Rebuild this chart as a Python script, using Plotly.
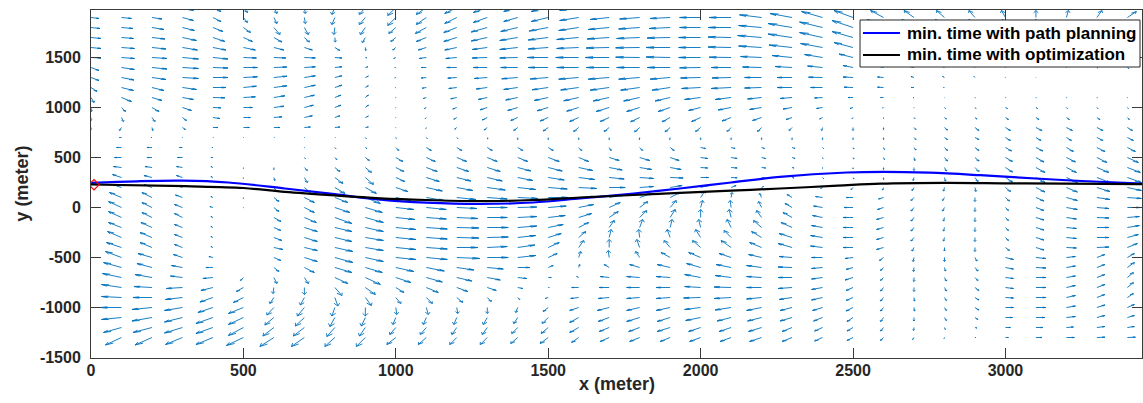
import plotly.graph_objects as go

# ---------------- data ----------------
# Grid of the current field (metres)
X_GRID = [0, 100, 200, 300, 400, 500, 600, 700, 800, 900, 1000, 1100, 1200, 1300, 1400, 1500, 1600,
          1700, 1800, 1900, 2000, 2100, 2200, 2300, 2400, 2500, 2600, 2700, 2800, 2900, 3000, 3100,
          3200, 3300, 3400]
Y_GRID = [2000, 1900, 1800, 1700, 1600, 1500, 1400, 1300, 1200, 1100, 1000, 900, 800, 700, 600, 500,
          400, 300, 200, 100, 0, -100, -200, -300, -400, -500, -600, -700, -800, -900, -1000, -1100,
          -1200, -1300]

# east component (one row per Y_GRID value, one entry per X_GRID value)
U = [
    [8, 10, 10, 11, 8, 4, 3, 1, -3, -6, -8, -10, -12, -14, -14, -17, -19, -19, -20, -20, -21, -22, -22, -22, -21, -19, -13, -10, -8, -6, -4, 0, 2, 5, 9],
    [8, 10, 10, 11, 8, 4, 3, 1, -3, -6, -8, -10, -12, -14, -14, -17, -19, -19, -20, -20, -21, -22, -22, -22, -21, -19, -13, -10, -8, -6, -4, 0, 2, 5, 9],
    [9, 11.5, 12, 12, 10, 7, 6, 4, -1, -5, -7, -11, -13, -16, -17, -19, -20, -21, -21, -21, -21, -23, -23, -24, -23, -21, -16, -12, -9, -6, -3, 0, 3, 6, 9],
    [10, 12, 13, 14, 12, 9, 8, 5, 0.5, -3, -5, -10, -13, -16, -18, -20, -22, -22, -23, -23, -22, -23, -24, -24, -23, -21, -17, -13, -9, -6, -3, 0, 3, 5, 7],
    [10, 13, 14, 15, 13, 12, 10, 8, 5, 0.5, -3, -8, -12, -15, -18, -20, -22, -23, -24, -24, -22, -23, -23, -23, -22, -19, -15, -11, -8, -5, -2, 0, 2, 4, 5],
    [10, 13, 15, 16, 15, 13, 12, 11, 7, 1.5, -2, -7, -11, -15, -18, -21, -23, -24, -24, -24, -22, -22, -21, -20, -18, -14, -10, -7, -5, -3, -1, 0, 1, 2, 3],
    [8, 13, 15, 16, 15, 14, 13, 11, 7, 2.5, -1, -5, -10, -14, -17, -20, -22, -23, -23, -23, -21, -20, -19, -17, -15, -10, -6, -4, -2, -1, -0.5, 0, 0.5, 1, 1.5],
    [8, 12.5, 14, 16, 15, 14, 13, 11, 7, 3, -1, -5, -9, -13, -16, -18, -20, -21, -21, -20, -20, -19, -17, -15, -14, -10, -6, -3, -2, -1, -0.5, 0, 0, 0, 0],
    [6, 12, 12, 14, 13, 13, 13, 11, 7, 3, -0.7, -4, -8, -11, -14, -16, -18, -19, -19, -18, -19, -20, -17, -15, -12, -9, -6, -3, -1, 0, 0, 0, 0, 0, 0],
    [3, 10, 10, 11, 12, 12, 11, 10, 6, 3, -0.5, -3, -6, -9, -12, -14, -15, -16, -16, -15, -16, -16, -14, -12, -8, -5, -3, -1, 0, 0.5, 0.5, 0.5, 0.5, 0.5, 0.5],
    [0.5, 4, 7, 9, 8, 9, 10, 9, 6, 3, -0.3, -2, -4, -7, -10, -11, -12, -13, -13, -12, -12, -13, -12, -9, -6, -3, -1, 0, 1, 1, 2, 1.5, 1, 1, 1],
    [0, 2, 3, 4, 7, 7, 8, 8, 5, 3, 0, -1, -3, -5, -7, -8, -9, -9, -9, -8, -9, -9, -9, -6, -3, -1, 0, 1, 2, 2, 3, 3, 3, 3, 2],
    [0, -2, 1, 3, 5, 6, 6, 6, 5, 3, 0, -0.5, -2, -3, -4, -5, -5, -5, -5, -5, -5, -4, -4, -3, -1, 0, 0, 2, 3, 4, 5, 6, 6, 6, 5],
    [0, -2, -1, 0.5, 0.5, 0.5, 0.5, 0.5, 0.5, 1, 0.5, 1, 1, 0.5, 0, 0, 0, 0, -0.3, -0.5, 0, 0, 0, 0, 0, 0, 0, 2, 3, 4, 5, 5, 5, 6, 6],
    [-3, -5, -5, -3, -1, 0, 0, 0.5, 1, 1.5, 3, 5, 5, 5, 5, 5, 3, 2, 3, 4, 5, 4, 3, 3, 1, 1, 1, 2, 3, 4, 6, 7, 7, 8, 8],
    [-6, -7, -5, -5, -2, 0, 0, 1, 2, 4, 7, 9, 10, 10, 10, 11, 10, 10, 10, 9, 7, 6, 4, 3, 0.5, 1, 1, 1, 3, 4, 7, 8, 9, 10, 11],
    [-7, -8, -7, -6, -2, 0, 0, 3, 5, 6, 8, 11, 12, 13, 13, 14, 14, 13, 12, 11, 7, 6, 4, 2, 0, 0, 0, 0, 2, 4, 7, 9, 10, 12, 13],
    [-8, -9, -8, -6, -2, 0, 1, 3, 8, 8, 9, 13, 14, 15, 15, 16, 16, 15, 14, 13, 8, 6, 4, 2, 1, 1, 0, -1, 1, 3, 7, 9, 11, 13, 14],
    [-8, -9, -8, -6, -2, 0, 3, 6, 10, 11, 12, 16, 16, 18, 18, 19, 18, 16, 14, 12, 8, 5, 2, -1, -2, -2, -1, -2, -1, 1, 5, 9, 11, 13, 14],
    [-11, -12, -10, -7, -2, 0, 5, 10, 13, 15, 15, 18, 19, 20, 20, 20, 18, 15, 12, 10, 4, 1, -2, -5, -7, -7, -5, -3, -2, 0, 4, 8, 11, 13, 14],
    [-12, -13, -10, -8, -3, 0, 5, 10, 15, 17, 18, 20, 20, 20, 19, 18, 15, 11, 8, 6, 2, -1, -3, -7, -9, -9, -6, -3, -2, 0, 3, 8, 11, 12, 13],
    [-12, -13, -10, -8, -2, 0, 7, 12, 17, 18, 19, 20, 21, 20, 19, 17, 13, 9, 7, 5, 0, -2, -5, -9, -10, -10, -7, -3, -1, 0, 3, 8, 10, 12, 12],
    [-12, -13, -11, -8, -2, 0, 7, 13, 17, 18, 20, 21, 22, 21, 19, 15, 10, 5, 3, 2, -2, -4, -8, -11, -11, -10, -7, -3, -1, 0, 3, 8, 10, 12, 12],
    [-13, -14, -12, -8, -2, 0, 8, 13, 17, 18, 20, 21, 22, 21, 18, 13, 7, 2, -1, -3, -5, -7, -10, -13, -12, -10, -7, -3, -1, 0, 3, 8, 10, 12, 11],
    [-14, -15, -12, -8, -2, 0, 9, 13, 18, 18, 20, 21, 21, 20, 17, 11, 5, 0, -3, -6, -8, -10, -12, -14, -12, -10, -7, -2, 0, 0, 4, 8, 10, 12, 10],
    [-15, -16, -14, -9, -4, 0, 7, 13, 18, 18, 20, 21, 23, 21, 18, 9, 2, -1, -4, -9, -12, -12, -13, -13, -11, -8, -4, -1, 0, 2, 8, 10, 9, 8, 7],
    [-17, -18, -15, -11, -7, 0, 5, 10, 17, 17, 18, 18, 17, 16, 12, 5, 1, -5, -10, -13, -14, -15, -15, -14, -11, -7, -3, -0.5, 1, 3, 8, 10, 9, 8, 7],
    [-18, -19, -17, -12, -10, -3, 3, 4, 13, 15, 15, 16, 15, 13, 9, 3, -2, -9, -13, -14, -16, -16, -15, -14, -11, -8, -3, 0, 2, 3, 8, 10, 9, 8, 6],
    [-19, -20, -18, -16, -12, -7, -1, 0, 7, 10, 8, 12, 11, 9, 5, 1, -7, -10, -13, -14, -16, -17, -15, -14, -11, -7, -3, 0, 2, 4, 8, 10, 9, 8, 6],
    [-19, -20, -19, -17, -13, -10, -4, -4, 3, 6, 5, 6, 6, 4, 2, -3, -8, -11, -13, -14, -17, -17, -15, -13, -11, -7, -3, 0.5, 2, 4, 8, 10, 9, 8, 6],
    [-20, -21, -20, -18, -15, -15, -7, -7, -3, 0, 1, 2, 1, 0, -2, -5, -9, -12, -13, -14, -16, -16, -15, -12, -10, -7, -3, 0.5, 2, 4, 8, 10, 9, 8, 7],
    [-19, -20, -20, -18, -17, -15, -9, -9, -5, -4, -3, -3, -3, -4, -4, -6, -9, -11, -13, -13, -15, -14, -14, -12, -9, -6, -3, 0, 2, 3, 7, 9, 9, 8, 7],
    [-17, -18, -19, -18, -17, -15, -11, -11, -8, -6, -6, -6, -5, -5, -6, -7, -9, -10, -11, -13, -12, -12, -13, -10, -8, -6, -3, -0.5, 1, 2, 5, 7, 7, 8, 7],
    [-15, -16, -17, -17, -17, -17, -14, -13, -10, -9, -9, -8, -7, -7, -7, -8, -7, -9, -10, -10, -11, -11, -12, -10, -8, -6, -3, -1.5, -0.5, 1, 3, 6, 8, 8, 8],
]

# north component
V = [
    [-1, -1, -1.5, -3, -4, -5, -6, -6, -7, -7, -8, -7, -6, -5, -4, -4, -3, -2, -1.5, -1, 0, 0, 2.7, 4, 6, 7, 7, 7, 7, 7, 7, 7, 7, 7, 6],
    [-1, -1, -1.5, -3, -4, -5, -6, -6, -7, -7, -8, -7, -6, -5, -4, -4, -3, -2, -1.5, -1, 0, 0, 2.7, 4, 6, 7, 7, 7, 7, 7, 7, 7, 7, 7, 6],
    [-1, -1, -2, -3, -4, -5, -7, -7, -7, -7, -6, -6, -5, -4.5, -4, -3.5, -3, -2, -1.5, -1, 0, 0, 2, 4, 5.5, 7, 8, 8, 8, 8, 8, 8, 7, 6, 5],
    [-1, -1, -1.5, -3, -4, -4, -4.5, -4.5, -4.5, -5, -4, -4, -4, -3.5, -3, -2.5, -2, -1.5, -1, -0.5, 0, 0.5, 2, 3.5, 5, 6, 7, 7, 7, 7, 6, 6, 5, 4, 3],
    [-1, -1, -1.5, -2.5, -2.5, -2.5, -2.5, -2.5, -3, -3, -2.5, -2.5, -2.5, -2, -2, -1.5, -1, -0.5, -0.3, 0, 0, 0.5, 1.5, 2.5, 4, 5, 5, 5, 4, 4, 3, 3, 2, 1, 0],
    [-0.5, -1, -1, -1.5, -1.5, -0.5, -0.5, -0.5, -0.5, -0.3, -1, -1, -1, -0.5, -0.5, 0, 0, 0, 0.3, 0.5, 0, 0.3, 1, 2, 3, 3.5, 3, 2.5, 2, 1.5, 1, 0.5, 0, -0.5, -1],
    [-3, -2, -1.5, -1, -0.5, 0, 0.5, 0.7, 0.7, 0.7, 0, 0, 0, 0, 0, 0, 0, 0, 0, 0, -0.3, 0, 0.5, 1, 1.5, 2, 1.5, 1, 1, 1, 0.5, 0.3, 0, -0.5, -1],
    [-3, -2.5, -2, -1, 0, 0.7, 1.3, 1.7, 1.7, 1.3, -0.3, -0.5, -0.7, -1, -1.3, -1.5, -1.7, -1.7, -1.7, -1.7, -0.5, -0.5, 0, 0, 0.3, 0.5, 0.5, 1, 1, 1, 0.5, 0.3, 0, 0, 0],
    [-4, -3, -3, -2, 0, 1.3, 1.7, 2.3, 2.3, 1.7, -0.3, -0.7, -1, -1.5, -2, -2.3, -2.5, -2.7, -2.7, -2.7, -1, -1, -0.5, 0, 0, 0.3, 0.3, 0, 0, 0, 0, 0, 0, 0, 0],
    [-5, -4, -3, -2, -0.3, 0.7, 1.7, 2.3, 2.3, 2.3, -0.5, -1, -1.3, -2, -2.5, -3, -3.3, -3.5, -3.5, -3.5, -2, -2, -1.5, -1, -0.5, 0, 0, -0.3, -0.3, -0.5, -0.5, -0.5, -0.5, -0.5, -0.5],
    [-4, -4, -4, -3, -0.3, 0, 1.3, 2.3, 2.3, 2.3, -0.5, -1, -1.5, -2.3, -3, -3.3, -3.7, -4, -4, -4, -3, -2.5, -2, -1.5, -1, -1, -0.5, -0.5, -1, -1, -1, -1, -1, -1, -1],
    [-3, -4, -4, -3, -1, 0, 0.7, 1.7, 1.7, 1.3, -0.5, -1, -1.7, -2.5, -3, -3.5, -4, -4, -4.3, -4.3, -4, -3.5, -3, -2, -1.5, -1, -1, -1, -1.5, -1.5, -2, -2, -2, -2, -2],
    [-2, -3, -3, -2, 0, 0, 0, 0.5, 0.5, 0.5, -0.5, -1, -1.7, -2.5, -3, -3.5, -4, -4, -4.3, -4.3, -4, -4, -4, -3, -3, -3, -2, -2, -2.5, -3, -3, -3, -3, -3, -3],
    [0, 0, 0, 0, 0, 0, 0, 0, 0, -1, -1, -1, -1, -1.5, -2, -2, -2, -2, -2, -2, -2, -2, -2, -2, -2, -2, -2, -2, -2, -2, -3, -3, -3, -3, -3],
    [0, 0, 0, 0, 0, 0, 0, -0.5, -1, -1, -3, -3, -3, -3, -3, -3, -3, -3, -3, -3, -1, -1, -1, -1, -1, -1.5, -2, -2.5, -3, -3, -3.5, -3.5, -4, -4, -4],
    [0, 0, 0, 0, 0, 0, 0, -1, -2, -3, -4, -4, -4, -4, -4, -4, -4, -3, -3, -3, -1, -1, -1, -1, -1, -1.5, -2, -3, -3.5, -3.5, -4, -4.5, -4.5, -5, -5],
    [1, 1, 1, 1, 1, -1, -2, -3, -4, -5, -4, -4, -4, -4, -3.5, -3.5, -3, -2.5, -2, -2, -0.5, -0.5, -0.5, -0.5, -1, -1.5, -2, -3, -3.5, -4, -4.5, -5, -5, -5, -5],
    [3, 3, 2, 2, 1, -1, -3, -5, -6, -7, -4, -4, -3.5, -3.5, -3, -2.5, -2, -1.5, -1, -0.5, 0, -0.3, -0.5, -0.5, -1, -1.5, -2, -3, -3.5, -4, -4.5, -5, -5, -5, -5],
    [3, 3, 3, 2, 1, -1, -4, -5, -6, -6, -4, -3.5, -3, -2.5, -2, -1.5, -1, 0, 1, 2, 2, 2, 1, 0, -1, -2, -2.5, -3, -3.5, -4, -4, -4.5, -4.5, -4, -3],
    [5, 5, 5, 2.5, 1, -1, -4, -5, -5, -6, -3, -3, -2, -1.5, -1, 0, 1, 2.5, 4, 5, 6, 5, 4, 3, 1, 0, -1.5, -3, -3, -4, -3.5, -3.5, -3, -2, -1],
    [6, 6, 5, 3, 1, -0.5, -4, -5, -5, -5, -2, -2, -1, 0, 0.5, 1.5, 3, 5, 6, 7, 7, 7, 6, 4, 1.5, 0, -2, -3.5, -3.5, -4, -3, -3, -2, -1, 0],
    [6, 6, 5, 4, 1, 0, -4, -5, -6, -5, -2, -1.5, -1, 0, 1, 2, 4, 6, 7, 8, 8, 8, 7, 5, 2, 0, -2, -3.5, -3.5, -4, -3, -2.5, -1.5, -0.5, 1],
    [5, 5, 5, 3, 1, 0, -3, -4, -4, -4, -2, -1.5, -0.5, 0, 1.5, 3, 5, 7, 8, 8, 8, 8, 7, 5, 2, 0, -2, -3.5, -3.5, -4, -3, -2.5, -1, 0, 2],
    [6, 6, 5, 3, 1, 0, -3, -4, -4, -3, -2, -1.5, -0.5, 0.5, 2, 4, 6, 8, 8, 8, 8, 7, 6, 4, 2, 0, -2, -3.5, -3.5, -4, -3, -2.5, -1, 0, 3],
    [5, 5, 5, 3, 1, 0, -2, -3, -4, -3, -2, -1.5, 0, 1, 2.5, 5, 7, 8, 8, 7, 7, 7, 5, 4, 1.5, 0, -2, -3.5, -3.5, -4, -3, -2.5, -0.5, 0.5, 4],
    [6, 6, 4, 3, 1, 0, -3, -4, -5, -4, -2, -2, -1, 0, 2, 4, 6, 7, 6, 5, 5, 4, 3, 1, 0, -1, -3, -4, -4, -3.5, -2, -1, 1, 3, 4],
    [5, 5, 4, 2, 0, 0, -4, -5, -5, -5, -4, -3.5, -2.5, -1.5, 0, 2, 3, 3, 3, 3, 4, 3, 2, 0.5, -1, -2, -3, -4, -3.5, -3.5, -1.5, -0.5, 1.5, 3, 5],
    [4, 4, 3, 1.5, -1, -3, -6, -6, -6, -7, -5, -4.5, -3.5, -2.5, -1, 0, 1, 1, 1, 1, 3, 2, 1, 0, -1.5, -2.5, -3, -4, -3.5, -3, -1, 0, 1.5, 3, 5],
    [3, 3, 1, -1, -3, -4, -6, -7, -8, -7, -5, -5, -4, -3, -1, 0, 0, 0, 0, 0, 1, 0.5, 0, -1, -2, -3, -3.5, -4, -3.5, -3, -1, 0, 2, 3, 5],
    [1, 1, 0, -2, -4.5, -5, -6, -7.5, -8.5, -8, -6, -6, -5, -4, -2, -1, -1, -1, -1, -1, -0.5, -1, -1.5, -2, -2.5, -3, -3.5, -3.5, -3, -2.5, -0.5, 0, 2, 3, 4],
    [0, 0, -2, -3, -5, -6, -7.5, -8.5, -8.5, -8.5, -7, -7, -6, -6, -5, -4, -3, -3, -3, -3, -2, -2.5, -3, -3, -3, -3.5, -3.5, -3.5, -3, -2.5, 0, 0, 1.5, 2.5, 3],
    [-2, -2, -3.5, -4.5, -6, -7, -7.5, -8.5, -9, -8.5, -7, -7, -7, -7, -6, -6, -5, -4, -4, -4, -3, -3.5, -3.5, -3.5, -3.5, -4, -4, -3.5, -3, -2, 0, 0, 1, 2, 2],
    [-5, -5, -5, -5.5, -6, -8, -8.5, -8.5, -9, -8.5, -7, -7, -7, -7, -6, -6, -5, -4, -4, -4, -4, -4, -4, -4, -3.5, -3.5, -3.5, -3, -2, -0.5, 0, 0, 0.5, 1, 1],
    [-7, -7.5, -7.5, -7, -7, -8, -9, -9, -9, -9, -7, -7, -7, -7, -6, -6, -5, -4, -4, -4, -4, -4, -4, -4, -3.5, -3, -3, -2, -1, 0, 0, 0, 0, 0.3, 0.3],
]

# vehicle paths
PLAN_X = [0, 150, 300, 450, 636, 800, 950, 1100, 1276, 1450, 1604, 1780, 1932, 2100, 2260, 2480, 2600, 2750, 2917, 3100, 3250, 3448]
PLAN_Y = [246, 262, 268, 250, 190, 133, 78, 48, 35, 50, 90, 140, 190, 250, 306, 350, 357, 348, 323, 290, 265, 240]
OPT_X = [0, 308, 500, 636, 800, 950, 1100, 1276, 1450, 1604, 1780, 1932, 2100, 2260, 2450, 2590, 2800, 3000, 3200, 3448]
OPT_Y = [230, 213, 195, 156, 120, 92, 75, 63, 75, 100, 125, 146, 168, 190, 218, 238, 246, 242, 238, 233]
START = (10, 228)

SERIES_NAMES = ["min. time with path planning", "min. time with optimization"]
SERIES_COLORS = ["#0000FF", "#000000"]
X_TICKS = [0, 500, 1000, 1500, 2000, 2500, 3000]
X_LABELS = ["0", "500", "1000", "1500", "2000", "2500", "3000"]
Y_TICKS = [-1500, -1000, -500, 0, 500, 1000, 1500]
Y_LABELS = ["-1500", "-1000", "-500", "0", "500", "1000", "1500"]

# ---------------- build figure ----------------
assert len(U) == len(Y_GRID) and len(V) == len(Y_GRID)
for row_u, row_v in zip(U, V):
    assert len(row_u) == len(X_GRID) and len(row_v) == len(X_GRID)

SCALE_X = 3.28   # metres of arrow per unit (east)
SCALE_Y = 10.0   # metres of arrow per unit (north)
ALPHA, BETA = 0.33, 0.33

qx, qy = [], []
for i, y0 in enumerate(Y_GRID):
    for j, x0 in enumerate(X_GRID):
        u = U[i][j] * SCALE_X
        v = V[i][j] * SCALE_Y
        if u == 0 and v == 0:
            continue
        tx, ty = x0 + u, y0 + v
        qx += [x0, tx, None, tx - ALPHA * (u + BETA * v), tx, tx - ALPHA * (u - BETA * v), None]
        qy += [y0, ty, None, ty - ALPHA * (v - BETA * u), ty, ty - ALPHA * (v + BETA * u), None]

fig = go.Figure()
fig.add_trace(go.Scatter(x=qx, y=qy, mode="lines", line=dict(color="#0072BD", width=0.9),
                         showlegend=False, hoverinfo="skip"))
fig.add_trace(go.Scatter(x=PLAN_X, y=PLAN_Y, mode="lines", name=SERIES_NAMES[0], showlegend=False,
                         line=dict(color=SERIES_COLORS[0], width=2.2, shape="spline", smoothing=1.0)))
fig.add_trace(go.Scatter(x=OPT_X, y=OPT_Y, mode="lines", name=SERIES_NAMES[1], showlegend=False,
                         line=dict(color=SERIES_COLORS[1], width=2.2, shape="spline", smoothing=1.0)))
fig.add_trace(go.Scatter(x=[START[0]], y=[START[1]], mode="markers", showlegend=False,
                         marker=dict(symbol="diamond-open", size=8, color="#FF0000", line=dict(width=1.2))))

FONT = "Liberation Sans"
axis_common = dict(showgrid=False, zeroline=False, showline=True, linecolor="#3a3a3a", linewidth=1,
                   ticks="inside", ticklen=10, tickwidth=1, tickcolor="#3a3a3a", mirror="ticks",
                   tickfont=dict(family=FONT, size=16, color="#262626", weight="bold"))

fig.update_xaxes(range=[0, 3448], tickvals=X_TICKS, ticktext=X_LABELS, ticklabelstandoff=-2, **axis_common)
fig.update_yaxes(range=[-1505, 1975], tickvals=Y_TICKS, ticktext=Y_LABELS, ticklabelstandoff=6, **axis_common)

# legend box (paper coordinates of the plot area)
LEG_X0, LEG_X1, LEG_Y0, LEG_Y1 = 0.7317, 0.9981, 0.8362, 0.9713
LEG_ROWS = [0.9339, 0.8707]
shapes = [dict(type="rect", xref="paper", yref="paper", x0=LEG_X0, x1=LEG_X1, y0=LEG_Y0, y1=LEG_Y1,
               fillcolor="white", line=dict(color="#262626", width=1), layer="above")]
annotations = []
for name, color, yr in zip(SERIES_NAMES, SERIES_COLORS, LEG_ROWS):
    shapes.append(dict(type="line", xref="paper", yref="paper", x0=0.7345, x1=0.7697, y0=yr, y1=yr,
                       line=dict(color=color, width=2.2), layer="above"))
    annotations.append(dict(text=name, xref="paper", yref="paper", x=0.7745, y=yr, xanchor="left",
                            yanchor="middle", showarrow=False,
                            font=dict(family=FONT, size=17, color="#000000", weight="bold")))

annotations += [
    dict(text="x (meter)", xref="paper", yref="paper", x=0.5, y=-0.075, xanchor="center",
         yanchor="middle", showarrow=False,
         font=dict(family=FONT, size=18, color="#262626", weight="bold")),
    dict(text="y (meter)", xref="paper", yref="paper", x=-0.066, y=0.5, xanchor="center",
         yanchor="middle", showarrow=False, textangle=-90,
         font=dict(family=FONT, size=18, color="#262626", weight="bold")),
]

fig.update_layout(
    width=1143, height=403,
    margin=dict(l=91, r=1, t=10, b=45, autoexpand=False),
    plot_bgcolor="white", paper_bgcolor="white",
    showlegend=False,
    shapes=shapes,
    annotations=annotations,
)

fig.write_html("out.html", config={"displayModeBar": False},
               post_script="document.body.style.margin='0px';document.body.style.overflow='hidden';")
